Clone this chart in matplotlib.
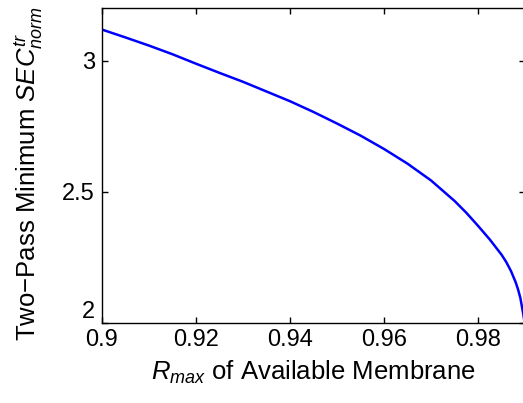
import matplotlib
matplotlib.use("Agg")
import matplotlib.pyplot as plt

plt.rcParams['font.family'] = ['Liberation Sans', 'DejaVu Sans']
plt.rcParams['mathtext.fontset'] = 'custom'
plt.rcParams['mathtext.rm'] = 'Liberation Sans'
plt.rcParams['mathtext.it'] = 'Liberation Sans:italic'

r_max = [0.900, 0.905, 0.910, 0.915, 0.920, 0.925, 0.930, 0.935, 0.940, 0.945,
         0.950, 0.955, 0.960, 0.965, 0.970, 0.975, 0.9775, 0.980, 0.9825, 0.985,
         0.986, 0.987, 0.988, 0.9885, 0.989, 0.9893, 0.9896, 0.990]
sec_norm = [3.118, 3.088, 3.057, 3.024, 2.988, 2.953, 2.919, 2.882, 2.845, 2.804,
            2.760, 2.714, 2.663, 2.607, 2.543, 2.465, 2.420, 2.370, 2.318, 2.260,
            2.232, 2.198, 2.155, 2.128, 2.095, 2.065, 2.035, 1.990]

xticks = [0.9, 0.92, 0.94, 0.96, 0.98]
xtick_labels = ['0.9', '0.92', '0.94', '0.96', '0.98']
yticks = [2, 2.5, 3]
ytick_labels = ['2', '2.5', '3']

fig = plt.figure(figsize=(5.23, 4.03), dpi=100)
ax = fig.add_axes([0.195, 0.1985, 0.809, 0.7815])
ax.plot(r_max, sec_norm, color='#0000ff', lw=1.8)
ax.set_xlim(0.9, 0.99)
ax.set_ylim(2, 3.2)
ax.set_xticks(xticks)
ax.set_xticklabels(xtick_labels)
ax.set_yticks(yticks)
ax.set_yticklabels(ytick_labels)
ax.tick_params(direction='in', top=True, right=True, length=4, width=1,
               labelsize=17)
ax.tick_params(axis='x', pad=4)
ax.tick_params(axis='y', pad=5)
ax.get_yticklabels()[0].set_verticalalignment('bottom')
for s in ax.spines.values():
    s.set_linewidth(1.0)
ax.set_xlabel('$R_{max}$ of Available Membrane', fontsize=18.5, labelpad=6)
ax.set_ylabel('Two\u2212Pass Minimum $SEC^{tr}_{norm}$', fontsize=18.5)
ax.yaxis.set_label_coords(-0.135, 0.475)
fig.savefig('out.png', dpi=100)
